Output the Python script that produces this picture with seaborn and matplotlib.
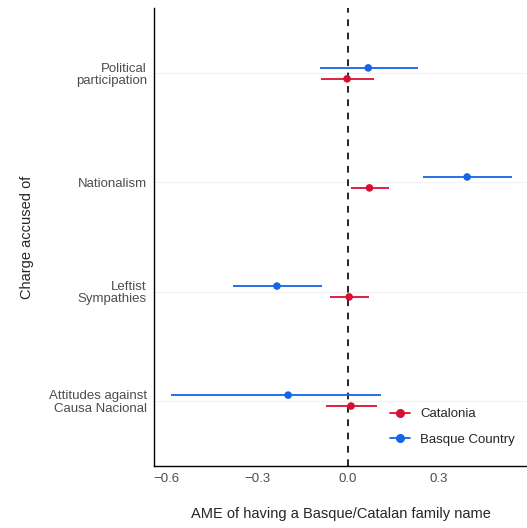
import numpy as np
import pandas as pd
import seaborn as sns
import matplotlib.pyplot as plt
from matplotlib.lines import Line2D

# data
charges = ['Political\nparticipation', 'Nationalism', 'Leftist\nSympathies',
           'Attitudes against\nCausa Nacional']
cat_est = [-0.003, 0.071, 0.004, 0.010]
cat_lo = [-0.089, 0.011, -0.058, -0.073]
cat_hi = [0.087, 0.136, 0.071, 0.096]
bas_est = [0.067, 0.394, -0.235, -0.198]
bas_lo = [-0.093, 0.248, -0.381, -0.585]
bas_hi = [0.230, 0.544, -0.085, 0.108]
regions = ['Catalonia', 'Basque Country']
colors = {'Catalonia': '#D90F32', 'Basque Country': '#1566E6'}

sns.set_style('white')
plt.rcParams['font.family'] = ['Liberation Sans', 'DejaVu Sans']

n = len(charges)
base = np.arange(n)[::-1] + 1  # top category highest
df = pd.concat([
    pd.DataFrame({'charge': charges, 'region': 'Catalonia', 'est': cat_est,
                  'lo': cat_lo, 'hi': cat_hi, 'y': base - 0.05}),
    pd.DataFrame({'charge': charges, 'region': 'Basque Country', 'est': bas_est,
                  'lo': bas_lo, 'hi': bas_hi, 'y': base + 0.05}),
], ignore_index=True)

fig = plt.figure(figsize=(5.27, 5.28), dpi=100)
ax = fig.add_axes([0.292, 0.1174, 0.708, 0.8676])

for y in base:
    ax.axhline(y, color='#EFEFEF', lw=0.6, zorder=0)
ax.axvline(0, color='black', ls=(0, (4, 4)), lw=1.2, zorder=1)

for reg in regions:
    sub = df[df.region == reg]
    ax.hlines(sub.y, sub.lo, sub.hi, color=colors[reg], lw=1.3, zorder=2)
sns.scatterplot(data=df, x='est', y='y', hue='region', palette=colors,
                s=30, linewidth=0, legend=False, ax=ax, zorder=3)

ax.set_xlim(-0.642, 0.592)
ax.set_ylim(0.4, n + 0.6)
ax.set_xticks([-0.6, -0.3, 0.0, 0.3])
ax.set_xticklabels(['\u22120.6', '\u22120.3', '0.0', '0.3'])
ax.set_yticks(base)
ax.set_yticklabels(charges, ha='right', linespacing=1.05)
ax.tick_params(axis='both', labelsize=9.5, labelcolor='#4D4D4D', length=3,
               width=0.8, color='#333333', direction='out', pad=2)
ax.set_xlabel('AME of having a Basque/Catalan family name', fontsize=10.5,
              labelpad=16)
ax.set_ylabel('Charge accused of', fontsize=10.5, labelpad=11)
for s in ['top', 'right']:
    ax.spines[s].set_visible(False)
for s in ['left', 'bottom']:
    ax.spines[s].set_color('black')
    ax.spines[s].set_linewidth(1.0)

handles = [Line2D([], [], color=colors[r], marker='o', markersize=5.5, lw=1.3)
           for r in regions]
ax.legend(handles, regions, loc='lower right', frameon=False, fontsize=9.5,
          handlelength=1.5, handletextpad=0.8, labelspacing=1.0,
          bbox_to_anchor=(1.0, 0.018))

fig.savefig('out.png', dpi=100)
